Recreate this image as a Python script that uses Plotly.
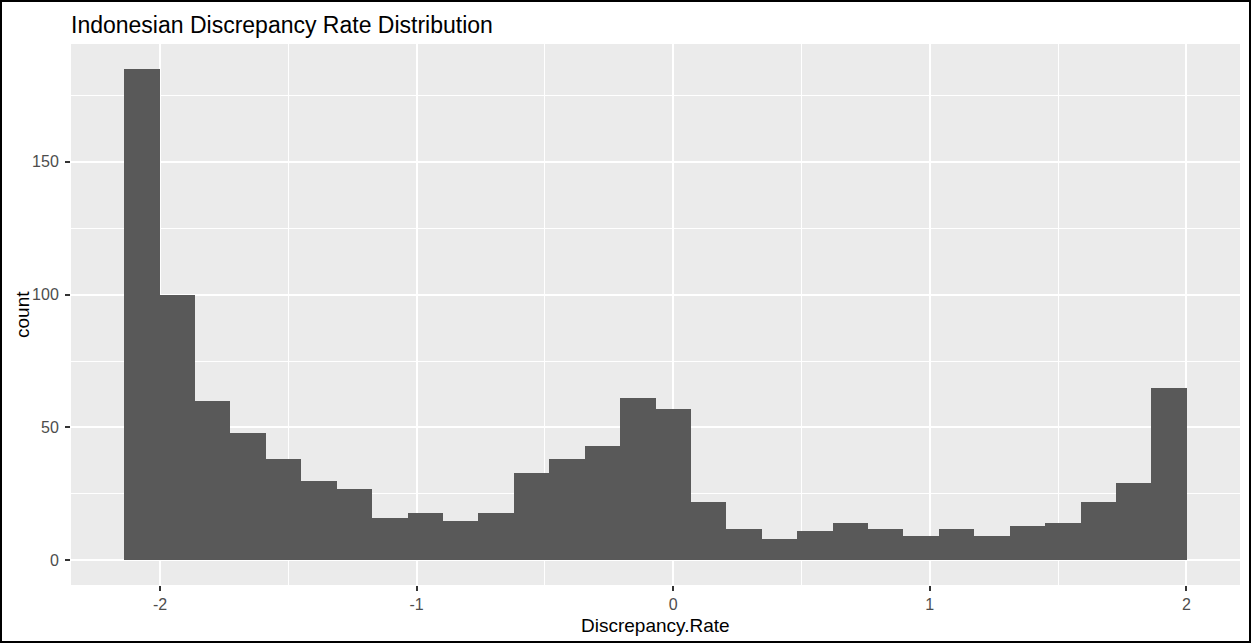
import numpy as np
import plotly.graph_objects as go

# ---- data ----
title_text = "Indonesian Discrepancy Rate Distribution"
x_label = "Discrepancy.Rate"
y_label = "count"
bin_low = -2.140          # left edge of first bin
bin_high = 2.002          # right edge of last bin
counts = [185, 100, 60, 48, 38, 30, 27, 16, 18, 15,
          18, 33, 38, 43, 61, 57, 22, 12, 8, 11,
          14, 12, 9, 12, 9, 13, 14, 22, 29, 65]
x_ticks = [-2, -1, 0, 1, 2]
y_ticks = [0, 50, 100, 150]

# ---- derived ----
n_bins = len(counts)
edges = np.linspace(bin_low, bin_high, n_bins + 1)
centers = (edges[:-1] + edges[1:]) / 2
width = edges[1] - edges[0]
span = bin_high - bin_low
x_range = [bin_low - 0.05 * span, bin_high + 0.05 * span]
y_range = [-0.05 * max(counts), 1.05 * max(counts)]

W, H = 1251, 643
ML, MR, MT, MB = 71, 11, 44, 58
PW, PH = W - ML - MR, H - MT - MB
FONT = "Liberation Sans, Arial, sans-serif"

fig = go.Figure()
fig.add_trace(go.Bar(
    x=centers, y=counts, width=width,
    marker=dict(color="#595959", line=dict(width=0)),
    hoverinfo="x+y",
))

axis_common = dict(
    showgrid=True, gridcolor="white", gridwidth=2,
    zeroline=False, showline=False,
    ticks="outside", ticklen=5, tickwidth=1.5, tickcolor="#333333",
    tickfont=dict(family=FONT, size=16, color="#4D4D4D"),
    minor=dict(showgrid=True, gridcolor="white", gridwidth=1, ticks=""),
)

fig.update_layout(
    width=W, height=H,
    margin=dict(l=ML, r=MR, t=MT, b=MB, pad=0),
    paper_bgcolor="white", plot_bgcolor="#EBEBEB",
    bargap=0, showlegend=False,
    title=dict(text=title_text, x=0, xref="paper", xanchor="left",
               y=1 - 24.5 / H, yref="container", yanchor="middle",
               font=dict(family=FONT, size=23, color="black")),
    xaxis=dict(range=x_range, tickvals=x_ticks, ticktext=[str(v) for v in x_ticks],
               ticklabelstandoff=0, **axis_common),
    yaxis=dict(range=y_range, tickvals=y_ticks, ticktext=[str(v) for v in y_ticks],
               ticklabelstandoff=3, **axis_common),
)
fig.layout.xaxis.minor.tickvals = [-1.5, -0.5, 0.5, 1.5]
fig.layout.yaxis.minor.tickvals = [25, 75, 125, 175]

# axis titles as annotations
fig.add_annotation(text=x_label, xref="paper", yref="paper", x=0.5,
                   y=-(625 - (MT + PH)) / PH, xanchor="center", yanchor="middle",
                   showarrow=False, font=dict(family=FONT, size=19, color="black"))
fig.add_annotation(text=y_label, xref="paper", yref="paper", x=-(ML - 22.5) / PW,
                   y=0.5, xanchor="center", yanchor="middle", textangle=-90,
                   showarrow=False, font=dict(family=FONT, size=19, color="black"))

# outer black frame
fig.add_shape(type="rect", xref="paper", yref="paper",
              x0=-(ML - 1) / PW, x1=1 + (MR - 1) / PW,
              y0=-(MB - 1) / PH, y1=1 + (MT - 1) / PH,
              line=dict(color="black", width=2), fillcolor="rgba(0,0,0,0)", layer="above")

fig.write_html("out.html")
